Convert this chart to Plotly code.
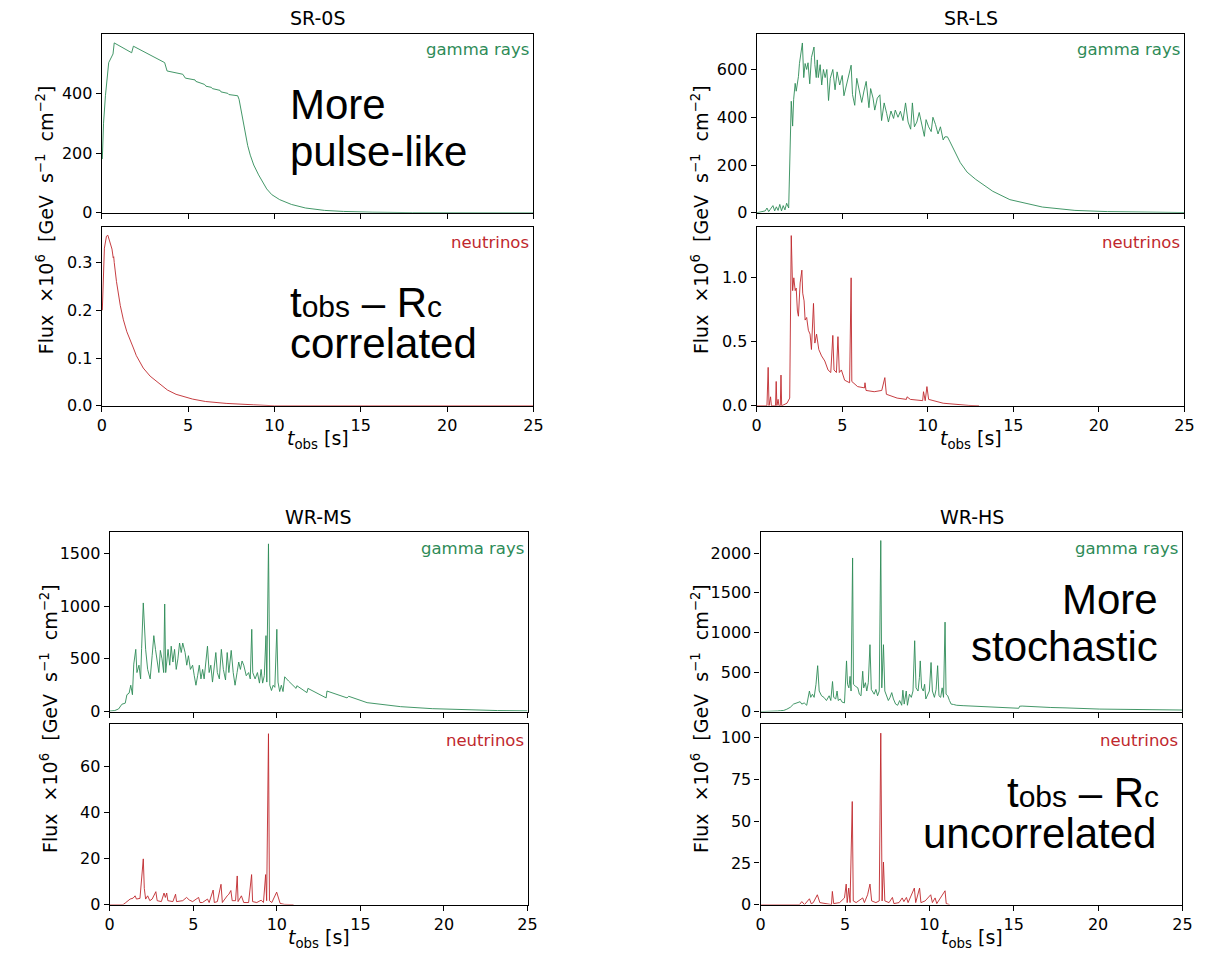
import plotly.graph_objects as go

# ---------------- data (time [s], flux x1e6) ----------------
sr0s_gamma = [(0.03, 180), (0.1, 300), (0.21, 392), (0.3, 450), (0.4, 503), (0.59, 525), (0.65, 532),
              (0.72, 569), (1.2, 552), (1.73, 536), (1.83, 558), (2.5, 537), (3.0, 522), (3.64, 503),
              (3.78, 475), (4.2, 470), (4.69, 464), (4.84, 451), (5.4, 445), (5.45, 440), (5.95, 430),
              (6.03, 424), (6.35, 420), (6.4, 416), (6.85, 410), (6.9, 405), (7.3, 400), (7.36, 396),
              (7.87, 392), (7.95, 380), (8.05, 350), (8.12, 326), (8.2, 295), (8.31, 260), (8.45, 225),
              (8.6, 193), (8.8, 160), (9.08, 127), (9.3, 103), (9.55, 80), (9.84, 61), (10.3, 44),
              (10.98, 28), (11.8, 16), (12.9, 8), (14.0, 4.5), (15.7, 2), (18.0, 0.5), (25.0, 0)]
sr0s_nu = [(0.03, 0.20), (0.15, 0.33), (0.27, 0.355), (0.35, 0.357), (0.45, 0.345), (0.59, 0.328),
           (0.66, 0.31), (0.69, 0.312), (0.72, 0.30), (0.85, 0.26), (1.07, 0.21), (1.25, 0.18),
           (1.45, 0.155), (1.6, 0.14), (1.83, 0.121), (2.0, 0.105), (2.4, 0.079), (2.8, 0.062),
           (3.36, 0.045), (3.8, 0.033), (4.3, 0.024), (5.26, 0.014), (6.0, 0.009), (7.2, 0.005),
           (8.8, 0.002), (10.0, 0.0), (25.0, 0.0)]

srls_gamma = [(0.0, 0), (0.3, 3), (0.5, 8), (0.6, 20), (0.7, 5), (0.8, 15), (0.95, 30), (1.05, 8),
              (1.15, 25), (1.25, 10), (1.35, 35), (1.45, 8), (1.55, 30), (1.65, 12), (1.75, 40),
              (1.87, 20), (1.95, 250), (2.02, 467), (2.1, 363), (2.16, 475), (2.25, 542), (2.31, 509),
              (2.44, 570), (2.5, 625), (2.67, 711), (2.75, 566), (2.83, 625), (2.92, 600), (3.0, 628),
              (3.1, 540), (3.2, 650), (3.35, 694), (3.4, 620), (3.48, 566), (3.54, 640), (3.6, 566),
              (3.71, 620), (3.8, 535), (3.9, 600), (4.0, 566), (4.1, 600), (4.2, 470), (4.3, 563),
              (4.45, 600), (4.58, 515), (4.7, 590), (4.85, 535), (5.0, 575), (5.1, 490), (5.25, 535),
              (5.52, 618), (5.6, 495), (5.73, 450), (5.85, 563), (6.0, 510), (6.14, 462), (6.27, 510),
              (6.4, 550), (6.56, 440), (6.66, 520), (6.8, 480), (6.9, 430), (7.05, 480), (7.2, 494),
              (7.3, 386), (7.45, 460), (7.6, 415), (7.7, 380), (7.85, 426), (8.0, 395), (8.1, 430),
              (8.26, 400), (8.4, 425), (8.55, 386), (8.7, 460), (8.85, 380), (9.0, 350), (9.1, 460),
              (9.22, 360), (9.36, 380), (9.5, 420), (9.65, 365), (9.8, 320), (9.9, 390), (10.05, 360),
              (10.2, 340), (10.3, 400), (10.45, 370), (10.6, 330), (10.74, 360), (10.9, 305),
              (11.0, 318), (11.15, 318), (11.3, 297), (11.6, 250), (11.9, 210), (12.3, 170),
              (12.8, 140), (13.8, 90), (14.8, 55), (16.7, 24), (18.6, 10), (20.5, 5), (22.4, 2), (25.0, 1)]
srls_nu = [(0.0, 0), (0.6, 0), (0.67, 0.30), (0.72, 0), (0.81, 0.07), (0.86, 0), (1.1, 0), (1.14, 0.19),
           (1.18, 0), (1.25, 0.05), (1.3, 0), (1.38, 0), (1.42, 0.24), (1.46, 0), (1.77, 0.02),
           (1.93, 0.06), (2.02, 1.33), (2.1, 0.9), (2.17, 1.0), (2.25, 0.9), (2.31, 0.92), (2.38, 0.74),
           (2.44, 0.7), (2.54, 0.96), (2.64, 1.06), (2.69, 0.88), (2.77, 0.82), (2.83, 0.67), (2.92, 0.69),
           (3.02, 0.59), (3.12, 0.56), (3.2, 0.44), (3.32, 0.8), (3.4, 0.49), (3.5, 0.56), (3.63, 0.44),
           (3.79, 0.39), (3.98, 0.35), (4.17, 0.28), (4.33, 0.26), (4.45, 0.55), (4.52, 0.28),
           (4.66, 0.26), (4.75, 0.54), (4.83, 0.26), (4.95, 0.28), (5.14, 0.20), (5.43, 0.18),
           (5.52, 1.0), (5.56, 0.19), (5.9, 0.15), (6.3, 0.14), (6.33, 0.18), (6.39, 0.12), (6.87, 0.11),
           (7.31, 0.12), (7.49, 0.22), (7.58, 0.09), (8.21, 0.06), (8.75, 0.05), (8.79, 0.07),
           (8.98, 0.05), (9.7, 0.04), (9.75, 0.11), (9.85, 0.04), (9.95, 0.15), (10.05, 0.05),
           (10.9, 0.02), (12.4, 0.003), (13.0, 0.0)]

wrms_gamma = [(0.0, 5), (0.3, 10), (0.53, 25), (0.73, 70), (0.93, 80), (1.03, 160), (1.16, 175),
              (1.26, 250), (1.36, 160), (1.44, 450), (1.56, 590), (1.63, 370), (1.75, 440), (1.85, 310),
              (1.91, 600), (2.01, 1030), (2.07, 840), (2.15, 590), (2.27, 400), (2.42, 310), (2.54, 530),
              (2.64, 720), (2.74, 590), (2.84, 500), (2.94, 370), (3.03, 580), (3.13, 500), (3.23, 370),
              (3.29, 1020), (3.35, 370), (3.49, 590), (3.59, 440), (3.68, 620), (3.78, 470), (3.88, 590),
              (3.98, 400), (4.08, 500), (4.18, 650), (4.28, 560), (4.37, 650), (4.51, 560), (4.61, 440),
              (4.71, 530), (4.83, 400), (4.96, 440), (5.06, 340), (5.16, 250), (5.26, 340), (5.36, 440),
              (5.46, 310), (5.56, 400), (5.65, 310), (5.77, 480), (5.85, 620), (5.95, 370), (6.05, 440),
              (6.15, 280), (6.25, 400), (6.35, 560), (6.44, 370), (6.56, 310), (6.68, 590), (6.8, 400),
              (6.93, 300), (7.03, 560), (7.13, 370), (7.27, 580), (7.39, 370), (7.5, 250), (7.62, 370),
              (7.72, 470), (7.82, 400), (7.92, 480), (8.02, 440), (8.17, 340), (8.31, 370), (8.41, 310),
              (8.5, 780), (8.56, 370), (8.7, 310), (8.84, 370), (8.96, 270), (9.06, 400), (9.15, 270),
              (9.25, 340), (9.35, 720), (9.4, 280), (9.5, 1590), (9.58, 250), (9.68, 200), (9.78, 250),
              (9.88, 230), (10.0, 780), (10.07, 280), (10.17, 190), (10.27, 250), (10.37, 190),
              (10.47, 330), (10.56, 310), (10.7, 290), (11.15, 220), (11.2, 245), (11.8, 180),
              (11.86, 220), (12.95, 130), (13.0, 195), (14.2, 130), (14.3, 145), (15.4, 85), (17.4, 47),
              (19.3, 28), (21.3, 17), (23.2, 10), (25.0, 7)]
wrms_nu = [(0.0, 0), (0.8, 0), (0.93, 0.7), (1.1, 1.5), (1.22, 2.4), (1.4, 2.8), (1.52, 3.8), (1.6, 2.4),
           (1.81, 2.7), (2.01, 19.8), (2.07, 7.0), (2.15, 2.4), (2.27, 3.8), (2.4, 1.7), (2.54, 2.4),
           (2.76, 5.6), (2.84, 1.7), (3.09, 1.3), (3.25, 5.0), (3.33, 3.1), (3.41, 5.0), (3.48, 1.7),
           (3.78, 1.3), (3.94, 4.5), (4.0, 1.3), (4.37, 1.7), (4.6, 3.1), (4.76, 2.0), (4.96, 1.3),
           (5.32, 3.1), (5.4, 0.9), (5.55, 0.9), (5.85, 2.4), (5.95, 0.9), (6.19, 6.3), (6.26, 0.9),
           (6.44, 1.3), (6.66, 8.8), (6.74, 0.9), (7.03, 3.8), (7.13, 4.5), (7.25, 6.1), (7.33, 1.7),
           (7.53, 1.7), (7.63, 12.4), (7.68, 1.3), (7.88, 3.8), (8.02, 0.9), (8.31, 0.9), (8.49, 13.0),
           (8.55, 1.3), (8.8, 0.9), (9.06, 1.9), (9.2, 0.9), (9.33, 13.0), (9.39, 1.7), (9.5, 74.0),
           (9.56, 1.7), (9.7, 0.9), (9.99, 5.4), (10.09, 3.1), (10.2, 0.5), (10.45, 0.1), (11.0, 0.0)]

wrhs_gamma = [(0.0, 0), (0.7, 0), (1.0, 8), (1.17, 12), (1.37, 15), (1.55, 30), (1.76, 55), (1.95, 95),
              (2.15, 110), (2.34, 125), (2.44, 95), (2.58, 110), (2.73, 80), (2.89, 260), (2.97, 180),
              (3.07, 220), (3.17, 180), (3.28, 345), (3.38, 580), (3.47, 260), (3.61, 200), (3.75, 180),
              (3.9, 140), (4.06, 200), (4.16, 140), (4.26, 380), (4.33, 180), (4.45, 160), (4.53, 260),
              (4.6, 140), (4.72, 160), (4.83, 120), (4.97, 110), (5.03, 430), (5.09, 640), (5.15, 345),
              (5.23, 300), (5.3, 445), (5.36, 260), (5.45, 1940), (5.5, 345), (5.62, 320), (5.76, 300),
              (5.85, 220), (5.95, 200), (6.05, 510), (6.11, 300), (6.21, 365), (6.29, 260), (6.38, 365),
              (6.48, 845), (6.56, 280), (6.63, 260), (6.73, 220), (6.83, 280), (6.93, 200), (7.03, 260),
              (7.12, 2160), (7.18, 300), (7.28, 845), (7.36, 260), (7.46, 200), (7.57, 140), (7.67, 180),
              (7.77, 240), (7.87, 160), (8.0, 95), (8.12, 80), (8.24, 140), (8.36, 80), (8.43, 270),
              (8.51, 95), (8.63, 260), (8.7, 80), (8.82, 220), (8.93, 180), (9.03, 260), (9.13, 895),
              (9.21, 300), (9.33, 260), (9.41, 430), (9.46, 640), (9.54, 300), (9.64, 260), (9.72, 345),
              (9.79, 160), (9.91, 220), (10.0, 260), (10.1, 620), (10.18, 260), (10.3, 180), (10.4, 280),
              (10.49, 580), (10.57, 200), (10.67, 180), (10.76, 300), (10.84, 180), (10.93, 1130),
              (10.99, 220), (11.09, 200), (11.19, 140), (11.29, 95), (11.43, 90), (11.62, 80), (12.0, 75),
              (13.37, 62), (15.3, 42), (15.35, 68), (15.5, 70), (17.2, 52), (18.05, 40), (18.1, 47),
              (20.1, 32), (22.0, 26), (25.0, 20)]
wrhs_nu = [(0.0, 0), (2.3, 0), (2.44, 1.8), (2.6, 0), (2.89, 3.5), (3.0, 0.5), (3.12, 1.2), (3.36, 5.9),
           (3.51, 1.2), (3.9, 0.6), (4.2, 0), (4.25, 7.9), (4.33, 0.6), (4.68, 1.2), (4.97, 4.0),
           (5.07, 12.3), (5.13, 1.2), (5.22, 9.9), (5.3, 1.2), (5.43, 61.8), (5.49, 2.2), (5.66, 1.2),
           (6.05, 4.0), (6.15, 1.2), (6.34, 5.9), (6.48, 12.3), (6.58, 2.2), (6.83, 1.2), (7.03, 2.2),
           (7.12, 102.8), (7.2, 2.2), (7.28, 25.5), (7.36, 2.2), (7.61, 1.2), (7.81, 4.3), (7.9, 0.6),
           (8.2, 1.2), (8.39, 4.0), (8.49, 1.8), (8.64, 4.3), (8.74, 1.2), (9.11, 9.9), (9.19, 1.2),
           (9.42, 9.9), (9.5, 1.2), (9.75, 2.2), (10.08, 5.9), (10.18, 1.2), (10.34, 4.0), (10.44, 0.6),
           (10.93, 8.3), (11.0, 0.6), (11.2, 0.0)]

panel_titles = ["SR-0S", "SR-LS", "WR-MS", "WR-HS"]
gamma_series = [sr0s_gamma, srls_gamma, wrms_gamma, wrhs_gamma]
nu_series = [sr0s_nu, srls_nu, wrms_nu, wrhs_nu]
gamma_ticks = [[0, 200, 400], [0, 200, 400, 600], [0, 500, 1000, 1500], [0, 500, 1000, 1500, 2000]]
nu_ticks = [[0.0, 0.1, 0.2, 0.3], [0.0, 0.5, 1.0], [0, 20, 40, 60], [0, 25, 50, 75, 100]]
nu_tickfmt = [".1f", ".1f", "d", "d"]
gamma_ymax = [600, 750, 1698, 2262]
nu_ymax = [0.375, 1.40, 78, 108]
x_ticks = [0, 5, 10, 15, 20, 25]

# ---------------- layout geometry (pixels) ----------------
W, H = 1227, 973
panel_x = [(98, 535), (761, 1194), (106, 529), (765, 1192)]
gamma_y = [(34, 215), (34, 215), (538, 719), (538, 719)]
nu_y = [(229, 410), (229, 410), (732, 914), (732, 914)]
ytitle_x = [40, 703, 44, 703]

GREEN = "#2e8b57"
RED = "#c0282d"
TICKFONT = dict(family="DejaVu Sans", size=16, color="black")
NB = "\u00a0"


def xdom(a, b):
    return [a / W, b / W]


def ydom(top, bottom):
    return [1 - bottom / H, 1 - top / H]


fig = go.Figure()
layout = {}
annotations = []

axis_common = dict(showline=True, linecolor="black", linewidth=1.3, mirror=True, ticks="outside",
                   ticklen=5, tickwidth=1.2, tickcolor="black", showgrid=False, zeroline=False,
                   tickfont=TICKFONT)

for p in range(4):
    gi = 2 * p + 1
    ni = 2 * p + 2
    for idx, series, color in ((gi, gamma_series[p], GREEN), (ni, nu_series[p], RED)):
        xs = [a for a, b in series]
        ys = [b for a, b in series]
        sfx = "" if idx == 1 else str(idx)
        fig.add_trace(go.Scatter(x=xs, y=ys, mode="lines", line=dict(color=color, width=0.9),
                                 xaxis="x" + sfx, yaxis="y" + sfx, showlegend=False, hoverinfo="skip"))

    for idx, ydm, ticks, ymax, fmt, show_x in (
            (gi, gamma_y[p], gamma_ticks[p], gamma_ymax[p], "d", False),
            (ni, nu_y[p], nu_ticks[p], nu_ymax[p], nu_tickfmt[p], True)):
        sfx = "" if idx == 1 else str(idx)
        layout["xaxis" + sfx] = dict(axis_common, domain=xdom(*panel_x[p]), range=[0, 25],
                                     tickvals=x_ticks, showticklabels=show_x, anchor="y" + sfx)
        layout["yaxis" + sfx] = dict(axis_common, domain=ydom(*ydm), range=[0, ymax],
                                     tickvals=ticks, tickformat=fmt, anchor="x" + sfx)

    xl, xr = panel_x[p]
    xc = (xl + xr) / 2
    # panel title
    annotations.append(dict(text=panel_titles[p], x=xc / W, y=1 - (gamma_y[p][0] - 16) / H,
                            xref="paper", yref="paper", showarrow=False, xanchor="center",
                            yanchor="middle", font=dict(family="DejaVu Sans", size=19, color="black")))
    # x title
    annotations.append(dict(text="<i>t</i><sub>obs</sub> [s]", x=xc / W, y=1 - (nu_y[p][1] + 34) / H,
                            xref="paper", yref="paper", showarrow=False, xanchor="center",
                            yanchor="middle", font=dict(family="DejaVu Sans", size=19, color="black")))
    # y title
    yc = (gamma_y[p][0] + nu_y[p][1]) / 2
    ytxt = ("Flux" + NB + " ×10<sup>6</sup>" + NB + " [GeV" + NB + " s<sup>−1</sup>" + NB +
            " cm<sup>−2</sup>]")
    annotations.append(dict(text=ytxt, x=ytitle_x[p] / W, y=1 - yc / H, xref="paper", yref="paper",
                            showarrow=False, textangle=-90, xanchor="center", yanchor="middle",
                            font=dict(family="DejaVu Sans", size=19, color="black")))
    # species labels
    annotations.append(dict(text="gamma rays", x=(xr - 2) / W, y=1 - (gamma_y[p][0] + 16) / H,
                            xref="paper", yref="paper", showarrow=False, xanchor="right",
                            yanchor="middle", font=dict(family="DejaVu Sans", size=16.5, color=GREEN)))
    annotations.append(dict(text="neutrinos", x=(xr - 2) / W, y=1 - (nu_y[p][0] + 16) / H,
                            xref="paper", yref="paper", showarrow=False, xanchor="right",
                            yanchor="middle", font=dict(family="DejaVu Sans", size=16.5, color=RED)))

BIG = dict(family="Liberation Sans", size=42, color="black")
SUBSPAN = "<span style='font-size:30px'>{}</span>"
big_texts = [
    ("More", 286, 105.5, "left"),
    ("pulse-like", 286, 153.5, "left"),
    ("t" + SUBSPAN.format("obs") + " – R" + SUBSPAN.format("c"), 286, 305.5, "left"),
    ("correlated", 286, 347, "left"),
    ("More", 1169, 605.5, "right"),
    ("stochastic", 1169, 653.5, "right"),
    ("t" + SUBSPAN.format("obs") + " – R" + SUBSPAN.format("c"), 1170, 800.5, "right"),
    ("uncorrelated", 1167, 842, "right"),
]
for txt, px, py, anc in big_texts:
    annotations.append(dict(text=txt, x=px / W, y=1 - py / H, xref="paper", yref="paper",
                            showarrow=False, xanchor=anc, yanchor="middle", font=BIG))

fig.update_layout(**layout)
fig.update_layout(width=W, height=H, margin=dict(l=0, r=0, t=0, b=0), plot_bgcolor="white",
                  paper_bgcolor="white", annotations=annotations, showlegend=False)
fig.write_html("out.html", config={"displayModeBar": False},
               post_script="document.body.style.margin='0px';")
